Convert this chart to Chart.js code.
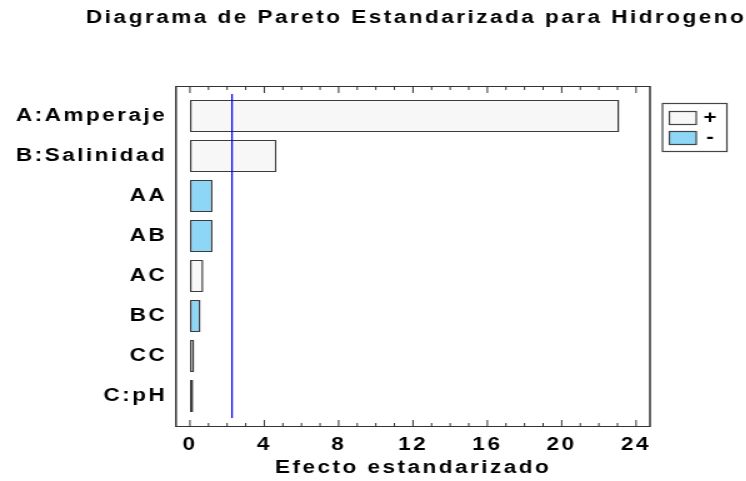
<!DOCTYPE html>
<html>
<head>
<meta charset="utf-8">
<script src="https://cdn.jsdelivr.net/npm/chart.js@4.4.1/dist/chart.umd.min.js"></script>
<style>
  html, body { margin: 0; padding: 0; background: #fff; overflow: hidden; }
  /* the reference is stretched sideways, so draw narrow and stretch */
  #wrap { width: 597px; height: 481px; transform: scaleX(1.25); transform-origin: 0 0; }
</style>
</head>
<body>
<div id="wrap"><canvas id="chart0"></canvas></div>
<script>
const factors = ["A:Amperaje", "B:Salinidad", "AA", "AB", "AC", "BC", "CC", "C:pH"];
const effects = [23.1, 4.66, 1.22, 1.22, 0.72, 0.57, 0.23, 0.18];
const signs = ["+", "+", "-", "-", "+", "-", "+", "+"];
const xticks = [0, 4, 8, 12, 16, 20, 24];
const critical = 2.262;
const criticalSpan = [-0.55, 7.55];

const plusColor = "#f7f7f7";
const minusColor = "#8ed6f6";
const FONT = "'Liberation Sans', Arial, sans-serif";

const frame = {
  id: "frame",
  beforeDraw(chart) {
    chart.ctx.letterSpacing = "2px";
  },
  afterDraw(chart) {
    const { ctx, chartArea: a, scales: { x } } = chart;
    ctx.save();
    ctx.letterSpacing = "0px";
    ctx.strokeStyle = "#333";
    ctx.lineWidth = 1;
    ctx.beginPath();
    ctx.moveTo(a.left, a.top + 0.5); ctx.lineTo(a.right, a.top + 0.5);
    ctx.moveTo(a.left, a.bottom - 0.5); ctx.lineTo(a.right, a.bottom - 0.5);
    // minor ticks every unit, longer at labelled ones
    const last = xticks[xticks.length - 1];
    for (let v = 0; v <= last; v++) {
      const px = x.getPixelForValue(v);
      const len = xticks.includes(v) ? 7 : 4;
      ctx.moveTo(px, a.top); ctx.lineTo(px, a.top + len);
      ctx.moveTo(px, a.bottom); ctx.lineTo(px, a.bottom - len);
    }
    ctx.stroke();
    ctx.lineWidth = 1.5;
    ctx.beginPath();
    ctx.moveTo(a.left, a.top); ctx.lineTo(a.left, a.bottom);
    ctx.moveTo(a.right, a.top); ctx.lineTo(a.right, a.bottom);
    ctx.stroke();

    // legend box
    const items = [{ text: "+", color: plusColor }, { text: "-", color: minusColor }];
    ctx.lineWidth = 1.2;
    ctx.strokeStyle = "#444";
    ctx.strokeRect(530, 103.5, 51.5, 48);
    ctx.font = "bold 18px " + FONT;
    ctx.textAlign = "center";
    ctx.textBaseline = "middle";
    items.forEach((it, i) => {
      const sy = 111.5 + i * 20;
      ctx.fillStyle = it.color;
      ctx.fillRect(535.5, sy, 21.5, 13);
      ctx.strokeRect(535.5, sy, 21.5, 13);
      ctx.fillStyle = "#000";
      ctx.fillText(it.text, 568, sy + 6.5);
    });
    ctx.restore();
  }
};

const ctx = document.getElementById("chart0").getContext("2d");

const myChart = new Chart(ctx, {
  type: "bar",
  data: {
    datasets: [
      {
        type: "line",
        data: criticalSpan.map((y) => ({ x: critical, y: y })),
        borderColor: "#0000ff",
        borderWidth: 1,
        pointRadius: 0,
        order: 0,
      },
      {
        type: "bar",
        data: effects.map((v, i) => ({ x: v, y: i })),
        backgroundColor: signs.map((s) => (s === "+" ? plusColor : minusColor)),
        borderColor: "#3c3c3c",
        borderWidth: { top: 1, bottom: 1, left: 1.5, right: 1.5 },
        borderSkipped: false,
        categoryPercentage: 1,
        barPercentage: 0.8,
        order: 1,
      },
    ],
  },
  options: {
    indexAxis: "y",
    responsive: true,
    maintainAspectRatio: false,
    animation: false,
    layout: { padding: 0 },
    plugins: {
      legend: { display: false },
      tooltip: { enabled: false },
      title: {
        display: true,
        align: "end",
        text: "Diagrama de Pareto Estandarizada para Hidrogeno",
        color: "#000",
        font: { family: FONT, size: 18, weight: "bold" },
        padding: { top: 7.5, bottom: 56.9 },
      },
    },
    scales: {
      x: {
        type: "linear",
        min: -0.75,
        max: 24.75,
        afterBuildTicks: (s) => { s.ticks = xticks.map((v) => ({ value: v })); },
        afterFit: (s) => { s.height = 54; },
        grid: { display: false, drawTicks: false },
        border: { display: false },
        ticks: {
          color: "#000",
          padding: 7,
          font: { family: FONT, size: 18, weight: "bold" },
        },
        title: {
          display: true,
          text: "Efecto estandarizado",
          color: "#000",
          font: { family: FONT, size: 18, weight: "bold" },
          padding: { top: 0, bottom: 2.5 },
        },
      },
      y: {
        type: "linear",
        reverse: true,
        offset: false,
        min: -0.75,
        max: 7.775,
        afterBuildTicks: (s) => { s.ticks = factors.map((f, i) => ({ value: i })); },
        afterFit: (s) => { s.width = 140.8; },
        grid: { display: false, drawTicks: false, offset: false },
        border: { display: false },
        ticks: {
          color: "#000",
          padding: 7,
          font: { family: FONT, size: 18, weight: "bold" },
          callback: (v) => factors[v],
        },
      },
      // empty right axis that keeps room for the legend box
      yRight: {
        type: "linear",
        position: "right",
        afterFit: (s) => { s.width = 77; },
        grid: { display: false, drawTicks: false },
        border: { display: false },
        ticks: { display: false },
      },
    },
  },
  plugins: [frame],
});
</script>
</body>
</html>
